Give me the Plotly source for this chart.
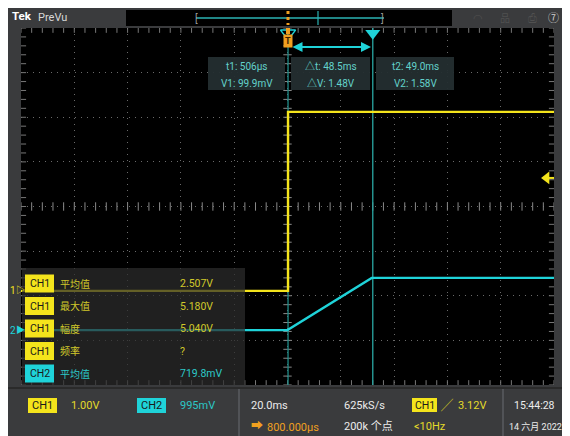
import plotly.graph_objects as go

# ---------------- data (screen divisions: x -5..5, y -4..4) ----------------
ch1_t_div = [-5.0, 0.01, 0.01, 5.0]
ch1_v_div = [-1.89, -1.89, 2.12, 2.12]
ch2_t_div = [-5.0, 0.0, 1.58, 5.0]
ch2_v_div = [-2.77, -2.77, -1.60, -1.60]
cursor_t_div = [0.01, 1.60]
trig_level_div = 0.64

meas_ch = ["CH1", "CH1", "CH1", "CH1", "CH2"]
meas_name = ["平均值", "最大值", "幅度", "频率", "平均值"]
meas_val = ["2.507V", "5.180V", "5.040V", "?", "719.8mV"]

cursor_box1 = ["t1: 506µs", "V1: 99.9mV"]
cursor_box2 = ["△t: 48.5ms", "△V: 1.48V"]
cursor_box3 = ["t2: 49.0ms", "V2: 1.58V"]

# ---------------- styling ----------------
W, H = 570, 436
OFF = 8                       # page body margin
L, R, T, B = 21, 554, 28, 385  # plot area in screen pixels
YEL = "#f4e41c"
CYN = "#1fd3d9"
ORG = "#f0a020"
GRAY = "#3a3b3d"
FONT = "Roboto, Noto Sans CJK SC, sans-serif"
CJK = "Roboto, Noto Sans CJK SC, sans-serif"


def px(xp):
    return (xp - L) / (R - L)


def py(yp):
    return (B - yp) / (B - T)


fig = go.Figure()

# graticule ticks
ticks_x = [i * 0.2 for i in range(-25, 26)]
ticks_y = [i * 0.2 for i in range(-20, 21)]
tick_style = dict(color="#8a8a8a", size=6, line=dict(color="#8a8a8a", width=1))
fig.add_trace(go.Scatter(x=ticks_x, y=[0] * len(ticks_x), mode="markers",
                         marker=dict(symbol="line-ns", **tick_style), hoverinfo="skip"))
fig.add_trace(go.Scatter(x=[0] * len(ticks_y), y=ticks_y, mode="markers",
                         marker=dict(symbol="line-ew", **tick_style), hoverinfo="skip"))
fig.add_trace(go.Scatter(x=ticks_x + ticks_x, y=[3.97] * len(ticks_x) + [-3.97] * len(ticks_x),
                         mode="markers", marker=dict(symbol="line-ns", color="#777", size=5,
                                                     line=dict(color="#777", width=1)),
                         hoverinfo="skip"))
fig.add_trace(go.Scatter(x=[-4.97] * len(ticks_y) + [4.97] * len(ticks_y), y=ticks_y + ticks_y,
                         mode="markers", marker=dict(symbol="line-ew", color="#777", size=5,
                                                     line=dict(color="#777", width=1)),
                         hoverinfo="skip"))

# cursors
for i, ct in enumerate(cursor_t_div):
    fig.add_trace(go.Scatter(x=[ct, ct], y=[-4, 4], mode="lines",
                             line=dict(color="#2aa8a4" if i else "#1f8c88", width=1.3),
                             hoverinfo="skip"))

# waveforms
fig.add_trace(go.Scatter(x=ch2_t_div, y=ch2_v_div, mode="lines",
                         line=dict(color=CYN, width=2.4), hoverinfo="skip"))
fig.add_trace(go.Scatter(x=ch1_t_div, y=ch1_v_div, mode="lines",
                         line=dict(color=YEL, width=2.4), hoverinfo="skip"))

# cursor top markers
fig.add_trace(go.Scatter(x=[cursor_t_div[1]], y=[3.88], mode="markers", cliponaxis=False,
                         marker=dict(symbol="triangle-down", size=13, color=CYN), hoverinfo="skip"))
fig.add_trace(go.Scatter(x=[cursor_t_div[0]], y=[3.88], mode="markers", cliponaxis=False,
                         marker=dict(symbol="triangle-down-open", size=13, color=CYN,
                                     line=dict(width=1.5)), hoverinfo="skip"))

# trigger level arrow
fig.add_trace(go.Scatter(x=[4.86, 5.0], y=[trig_level_div, trig_level_div], mode="lines",
                         line=dict(color=YEL, width=2), hoverinfo="skip", cliponaxis=False))
fig.add_trace(go.Scatter(x=[4.86], y=[trig_level_div], mode="markers", cliponaxis=False,
                         marker=dict(symbol="triangle-left", size=11, color=YEL), hoverinfo="skip"))

shapes = []
ann = []


def rect(x0, y0, x1, y1, color, line=None, layer="above"):
    shapes.append(dict(type="rect", xref="paper", yref="paper",
                       x0=px(x0), x1=px(x1), y0=py(y1), y1=py(y0),
                       fillcolor=color, line=dict(width=0) if line is None else line,
                       layer=layer))


def text(x, y, s, color, size=10.5, anchor="left", font=FONT, bg=None):
    ann.append(dict(xref="paper", yref="paper", x=px(x), y=py(y), text=s,
                    showarrow=False, xanchor=anchor, yanchor="middle",
                    font=dict(color=color, size=size, family=font),
                    bgcolor=bg, borderpad=1))


# top bar
text(10, 16, "<b>Tek</b>", "#ffffff", 11.5)
text(36, 17, "PreVu", "#d8d8d8", 11)
rect(126, 10, 452, 26, "#000000")
shapes.append(dict(type="line", xref="paper", yref="paper", x0=px(196), x1=px(384),
                   y0=py(18), y1=py(18), line=dict(color="#2bb3b3", width=1.5)))
shapes.append(dict(type="line", xref="paper", yref="paper", x0=px(318), x1=px(318),
                   y0=py(11), y1=py(25), line=dict(color="#2bb3b3", width=1.2)))
shapes.append(dict(type="line", xref="paper", yref="paper", x0=px(288), x1=px(288),
                   y0=py(11), y1=py(25), line=dict(color=ORG, width=3, dash="dot")))
text(196, 18, "[", "#9a9a9a", 10, anchor="center")
text(383, 18, "]", "#9a9a9a", 10, anchor="center")
text(478, 18, "◠", "#505050", 11, anchor="center")
text(505, 18, "品", "#505050", 10, anchor="center", font=CJK)
text(532, 18, "⎙", "#505050", 11, anchor="center")
text(553, 18, "⑦", "#d0d0d0", 11, anchor="center")

# trigger T marker
text(288, 41, "<b>T</b>", "#3a2000", 9, anchor="center", bg=ORG)
shapes.append(dict(type="line", xref="paper", yref="paper", x0=px(288), x1=px(288),
                   y0=py(28), y1=py(34), line=dict(color=ORG, width=4)))

# cursor readout boxes
ctext = "#62d2cb"
for (x0, x1), lines in zip([(208, 285), (291, 370), (376, 454)],
                           [cursor_box1, cursor_box2, cursor_box3]):
    rect(x0, 57, x1, 90, "rgba(36,46,48,0.95)")
    cx = (x0 + x1) / 2
    text(cx, 67, lines[0], ctext, 10, anchor="center")
    text(cx, 83, lines[1], ctext, 10, anchor="center")
ann.append(dict(xref="paper", yref="paper", x=px(371), y=py(47), ax=-80, ay=0,
                axref="pixel", ayref="pixel", text="", showarrow=True,
                arrowhead=2, startarrowhead=2, arrowside="end+start",
                arrowsize=1, arrowwidth=2, arrowcolor=CYN))

# ground markers
text(8, 290, "1", YEL, 10)
text(14, 290, "▷", YEL, 9)
text(8, 330, "2", CYN, 10)
text(14, 330, "▶", CYN, 9)

# measurement panel
rect(22, 268, 245, 385, "rgba(44,44,44,0.72)")
row_y = [283.5, 306, 328.5, 351, 373.5]
for ch, name, val, yy in zip(meas_ch, meas_name, meas_val, row_y):
    bc = YEL if ch == "CH1" else CYN
    tc = "#d0c82a" if ch == "CH1" else "#2cc9c9"
    rect(25, yy - 9, 54, yy + 9, bc)
    text(39.5, yy, ch, "#1a1a1a", 10.5, anchor="center")
    text(58, yy, name, tc, 10, font=CJK)
    text(178, yy, val, tc, 10.5)

# bottom bar
for xd in [239, 503]:
    shapes.append(dict(type="line", xref="paper", yref="paper", x0=px(xd), x1=px(xd),
                       y0=py(389), y1=py(H), line=dict(color="#5a5c60", width=1.5)))
shapes.append(dict(type="line", xref="paper", yref="paper", x0=px(0), x1=px(W),
                   y0=py(388), y1=py(388), line=dict(color="#2a2a2a", width=2)))
rect(28, 398, 57, 413, YEL)
text(42.5, 405.5, "CH1", "#1a1a1a", 11, anchor="center")
text(69, 405.5, "1.00V", "#e3d92a", 11)
rect(137, 398, 166, 413, CYN)
text(151.5, 405.5, "CH2", "#1a1a1a", 11, anchor="center")
text(178, 405.5, "995mV", "#2cc6c6", 11)
text(249, 405.5, "20.0ms", "#ececec", 11)
text(342, 405.5, "625kS/s", "#ececec", 11)
rect(412, 398, 437, 412, YEL)
text(424.5, 405, "CH1", "#1a1a1a", 10.5, anchor="center")
text(447, 405.5, "╱", YEL, 12, anchor="center")
text(456, 405.5, "3.12V", "#e3d92a", 11)
text(512, 405.5, "15:44:28", "#ececec", 10.5)
text(249, 425.5, "➡", ORG, 12)
text(265, 427, "800.000µs", ORG, 11)
text(342, 426.5, "200k 个点", "#ececec", 11, font=CJK)
text(412, 426.5, "<10Hz", "#e3d92a", 11)
text(507, 426.5, "14 六月 2022", "#ececec", 9, font=CJK)

fig.update_layout(
    width=W, height=H,
    margin=dict(l=L - OFF, r=W - (R - OFF), t=T - OFF, b=H - (B - OFF), pad=0),
    paper_bgcolor=GRAY, plot_bgcolor="#000000",
    showlegend=False, shapes=shapes, annotations=ann,
    xaxis=dict(range=[-5, 5], dtick=1, showgrid=True, gridcolor="#6a6a6a",
               griddash="1px,5px", gridwidth=1, zeroline=False, showticklabels=False,
               showline=False, fixedrange=True),
    yaxis=dict(range=[-4, 4], dtick=1, showgrid=True, gridcolor="#6a6a6a",
               griddash="1px,5px", gridwidth=1, zeroline=False, showticklabels=False,
               showline=False, fixedrange=True),
)

fig.write_html("out.html")
